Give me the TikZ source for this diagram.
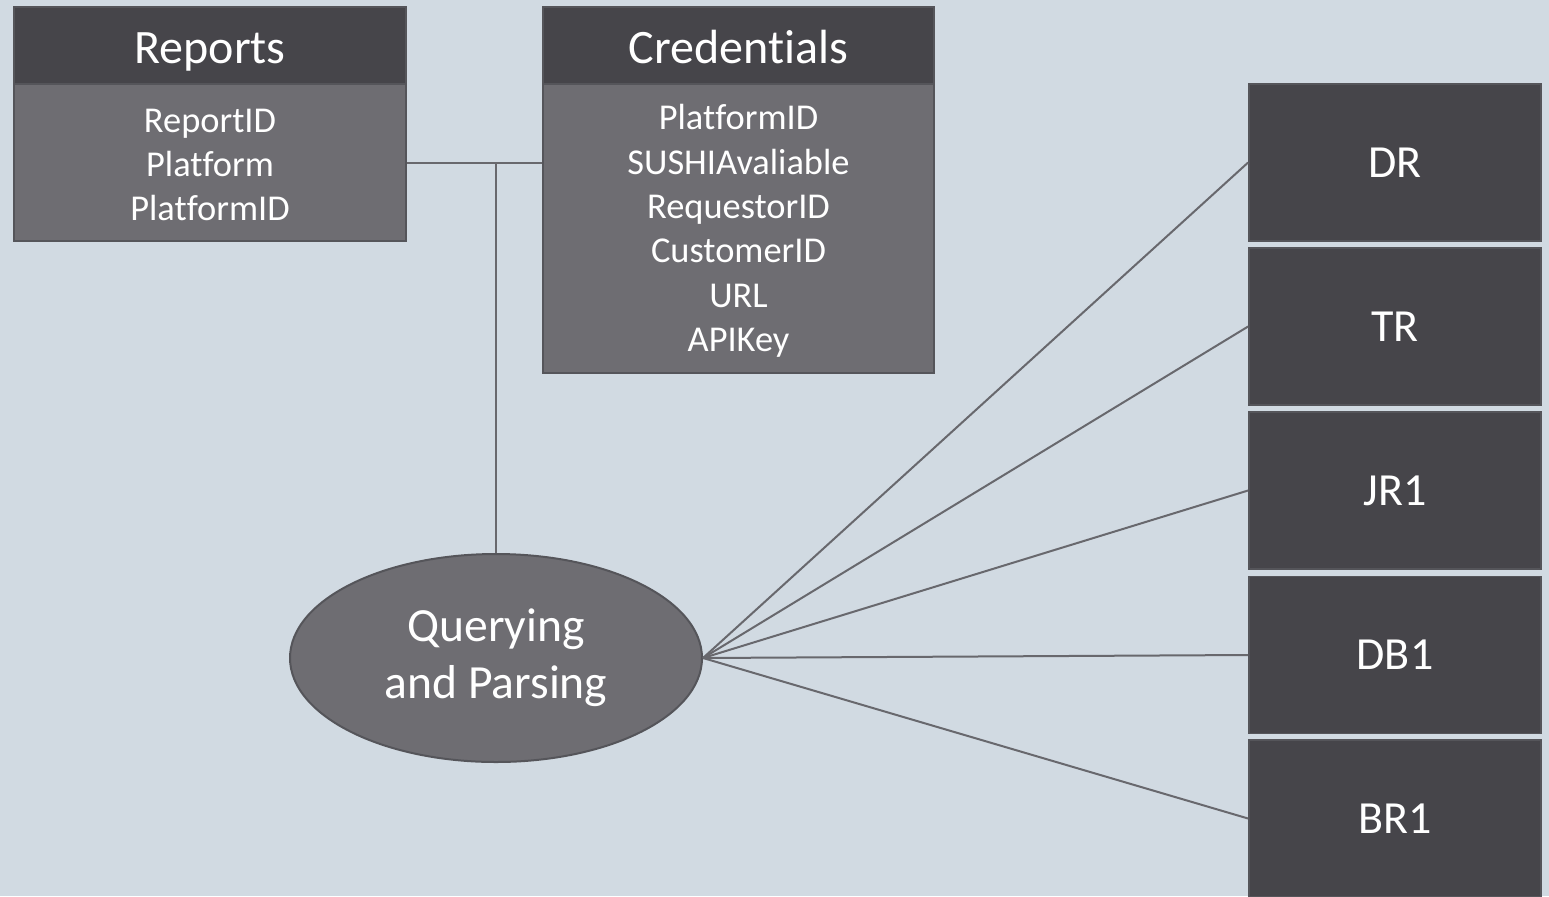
\documentclass[tikz,border=0pt]{standalone}
\usepackage{fontspec}
\setmainfont{Carlito}[Ligatures=NoCommon]
\usetikzlibrary{shapes.geometric,calc}
\definecolor{bg}{HTML}{D1DAE2}
\definecolor{headfill}{HTML}{46454A}
\definecolor{bodyfill}{HTML}{6E6D72}
\definecolor{edge}{HTML}{55555A}
\definecolor{wire}{HTML}{68686D}
\tikzset{
  px/.style={x=0.5pt,y=-0.5pt},
  boxbase/.style={draw=edge,line width=0.9pt,text=white,inner sep=0pt,align=center},
  headbox/.style={boxbase,fill=headfill,minimum width=#1,minimum height=38.5pt,
    font=\fontsize{24}{28}\selectfont},
  headtext/.style={text=white,inner sep=0pt,text height=15.5pt,text depth=0pt,
    font=\fontsize{24}{28}\selectfont},
  bodybox/.style={boxbase,fill=bodyfill},
  bodytext/.style={text=white,inner sep=0pt,align=center,font=\fontsize{18.2}{22.2}\selectfont},
  repbox/.style={boxbase,fill=headfill,minimum width=146pt,minimum height=78.5pt,
    font=\fontsize{23}{27}\selectfont},
  procnode/.style={ellipse,draw=edge,line width=1pt,fill=bodyfill,text=white,inner sep=0pt,
    minimum width=206pt,minimum height=104pt,align=center,font=\fontsize{23.8}{28.5}\selectfont},
  wireline/.style={draw=wire,line width=1pt}
}
\begin{document}
\begin{tikzpicture}[px]
\fill[bg] (0,0) rectangle (1549,896);
\useasboundingbox (0,0) rectangle (1549,896);
\clip (0,0) rectangle (1549,896);

% Reports table
\node[bodybox,minimum width=196pt,minimum height=78.5pt] (rb) at (210,162.5) {};
\node[bodytext] (rbt) at (210,165) {ReportID\\Platform\\PlatformID};
\node[headbox=196pt] (rh) at (210,45.5) {};
\node[headtext] (rht) at (210,48) {Reports};

% Credentials table
\node[bodybox,minimum width=195.5pt,minimum height=144.5pt] (cb) at (738.5,228.5) {};
\node[bodytext] (cbt) at (738.5,231) {PlatformID\\SUSHIAvaliable\\RequestorID\\CustomerID\\URL\\APIKey};
\node[headbox=195.5pt] (ch) at (738.5,45.5) {};
\node[headtext] (cht) at (738.5,48) {Credentials};

% Process
\node[procnode] (q) at (496,658) {Querying\\and Parsing};

% Report types
\node[repbox] (dr)  at (1395,162.5) {DR};
\node[repbox] (tr)  at (1395,326.5) {TR};
\node[repbox] (jr)  at (1395,490.5) {JR1};
\node[repbox] (db)  at (1395,655)   {DB1};
\node[repbox] (br)  at (1395,818.5) {BR1};

% Connectors
\coordinate (j) at (496,164);
\draw[wireline] (rb.east) -- (rb.east -| cb.west);
\draw[wireline] (j) -- (q.north);
\foreach \t in {dr,tr,jr,db,br}
  \draw[wireline] (q.east) -- (\t.west);
\end{tikzpicture}
\end{document}
